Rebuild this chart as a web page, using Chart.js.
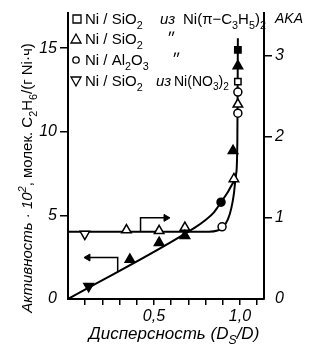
<!DOCTYPE html>
<html>
<head>
<meta charset="utf-8">
<script src="https://cdn.jsdelivr.net/npm/chart.js@4.4.0/dist/chart.umd.min.js"></script>
<style>
  body { margin: 0; background: #fff; }
  #wrap { width: 318px; height: 353px; }
</style>
</head>
<body>
<div id="wrap"><canvas id="chart" width="318" height="353"></canvas></div>
<script>
// --- данные ---
// подписи делений
const xTickValues = [0.5, 1.0];
const xTickLabels = ['0,5', '1,0'];
const leftTicks = [0, 5, 10, 15];
const rightTicks = [0, 1, 2, 3];

// активность, левая ось (черные точки)
const fDownX = [0.12];
const fDownY = [0.77];
const fUpX = [0.36, 0.53, 0.68, 0.96, 0.988];
const fUpY = [2.36, 3.37, 3.78, 8.86, 13.94];
const fCircX = [0.89];
const fCircY = [5.79];
const fSqX = [0.988];
const fSqY = [14.9];

// АКА, правая ось (светлые точки)
const oDownX = [0.098];
const oDownY = [0.80];
const oUpX = [0.34, 0.53, 0.68, 0.965, 0.988];
const oUpY = [0.85, 0.84, 0.88, 1.48, 2.40];
const oCircX = [0.896, 0.988, 0.988];
const oCircY = [0.89, 2.29, 2.55];
const oSqX = [0.988];
const oSqY = [2.68];

// кривые
const lowX = [0, 0.74, 0.80, 0.85, 0.89, 0.93, 0.96, 0.978, 0.985, 0.988];
const lowY = [0, 4.28, 4.72, 5.2, 5.79, 6.4, 6.95, 7.5, 9.5, 15.6];
const upX = [0, 0.82, 0.87, 0.90, 0.93, 0.95, 0.965, 0.977];
const upY = [0.83, 0.83, 0.845, 0.88, 0.98, 1.12, 1.3, 1.55];

// стрелки-указатели осей
const arrRX = [0.422, 0.422, 0.57];
const arrRY = [0.83, 1.0, 1.0];
const arrLX = [0.289, 0.289, 0.116];
const arrLY = [1.67, 2.48, 2.48];

const FONT = '"Liberation Sans", "DejaVu Sans", sans-serif';

function pts(xs, ys) {
    return xs.map((x, i) => ({ x: x, y: ys[i] }));
}

function marks(xs, ys, axis, style, filled, rot) {
    return {
        data: pts(xs, ys),
        yAxisID: axis,
        showLine: false,
        pointStyle: style,
        rotation: rot || 0,
        pointRadius: style === 'circle' ? 4 : (style === 'rect' ? 4.5 : 5.5),
        pointBackgroundColor: filled ? '#000' : '#fff',
        pointBorderColor: '#000',
        pointBorderWidth: 1.5,
        order: 0
    };
}

function curve(xs, ys, axis) {
    return {
        data: pts(xs, ys),
        yAxisID: axis,
        showLine: true,
        borderColor: '#000',
        borderWidth: 2,
        pointRadius: 0,
        cubicInterpolationMode: 'monotone',
        order: 1
    };
}

function arrow(xs, ys, axis, rot) {
    return {
        data: pts(xs, ys),
        yAxisID: axis,
        showLine: true,
        borderColor: '#000',
        borderWidth: 1.5,
        pointStyle: 'triangle',
        rotation: rot,
        pointRadius: xs.map((x, i) => i === xs.length - 1 ? 4 : 0),
        pointBackgroundColor: '#000',
        pointBorderColor: '#000',
        pointBorderWidth: 1,
        order: 1
    };
}

// текст с индексами: '_2' нижний, '^2' верхний
function rich(ctx, parts, x, y, size, italic, draw) {
    let cx = x;
    parts.forEach(p => {
        let s = p, dy = 0, fs = size;
        if (p[0] === '_') { s = p.slice(1); dy = size * 0.3; fs = size * 0.72; }
        else if (p[0] === '^') { s = p.slice(1); dy = -size * 0.4; fs = size * 0.72; }
        ctx.font = (italic ? 'italic ' : '') + fs + 'px ' + FONT;
        if (draw !== false) ctx.fillText(s, cx, y + dy);
        cx += ctx.measureText(s).width;
    });
    return cx - x;
}

function legendMark(ctx, style, x, y) {
    ctx.save();
    ctx.lineWidth = 1.3;
    ctx.strokeStyle = '#000';
    ctx.fillStyle = '#fff';
    ctx.beginPath();
    if (style === 'rect') {
        ctx.rect(x - 4, y - 4, 8, 8);
    } else if (style === 'circle') {
        ctx.arc(x, y, 3.2, 0, Math.PI * 2);
    } else if (style === 'up') {
        ctx.moveTo(x, y - 5); ctx.lineTo(x + 5, y + 4); ctx.lineTo(x - 5, y + 4); ctx.closePath();
    } else {
        ctx.moveTo(x, y + 5); ctx.lineTo(x + 5, y - 4); ctx.lineTo(x - 5, y - 4); ctx.closePath();
    }
    ctx.fill();
    ctx.stroke();
    ctx.restore();
}

const textPlugin = {
    id: 'texts',
    afterDraw(chart) {
        const ctx = chart.ctx;
        ctx.save();
        ctx.fillStyle = '#000';
        ctx.textBaseline = 'alphabetic';
        ctx.textAlign = 'left';

        // легенда
        const lx = 85, sz = 15;
        legendMark(ctx, 'rect', 77, 19);
        rich(ctx, ['Ni / SiO', '_2'], lx, 24, sz, false);
        rich(ctx, ['из'], 160, 24, sz, true);
        rich(ctx, ['Ni(π−C', '_3', 'H', '_5', ')', '_2'], 183, 24, sz, false);

        legendMark(ctx, 'up', 76, 39);
        rich(ctx, ['Ni / SiO', '_2'], lx, 44, sz, false);
        rich(ctx, ['״'], 167, 44, sz, false);

        legendMark(ctx, 'circle', 76, 60);
        rich(ctx, ['Ni / Al', '_2', 'O', '_3'], lx, 65, sz, false);
        rich(ctx, ['״'], 172, 65, sz, false);

        legendMark(ctx, 'down', 76, 81);
        rich(ctx, ['Ni / SiO', '_2'], lx, 86, sz, false);
        rich(ctx, ['из'], 156, 86, sz, true);
        rich(ctx, ['Ni(NO', '_3', ')', '_2'], 174, 86, 14, false);

        // подпись правой оси
        rich(ctx, ['AKA'], 275, 23, 14, true);

        // подпись оси x
        const xp = ['Дисперсность (D', '_S', '/D)'];
        const wx = rich(ctx, xp, 0, 0, 17, true, false);
        rich(ctx, xp, 174 - wx / 2, 339, 17, true);

        // подпись левой оси (повернута)
        ctx.translate(27, 178);
        ctx.rotate(-Math.PI / 2);
        const p1 = ['Активность · 10', '^2'];
        const p2 = [', молек. C', '_2', 'H', '_6', '/(г Ni·ч)'];
        const w1 = rich(ctx, p1, 0, 0, 15, true, false);
        const w2 = rich(ctx, p2, 0, 0, 15, false, false);
        const sx = -(w1 + w2) / 2;
        rich(ctx, p1, sx, 5, 15, true);
        rich(ctx, p2, sx + w1, 5, 15, false);
        ctx.restore();
    }
};

const tickFont = { family: FONT, size: 16, style: 'italic' };
const noZero = c => (c.tick && c.tick.value === 0) ? 'rgba(0,0,0,0)' : '#000';

const ctx = document.getElementById('chart').getContext('2d');
const chart = new Chart(ctx, {
    type: 'scatter',
    data: {
        datasets: [
            curve(lowX, lowY, 'y'),
            curve(upX, upY, 'y2'),
            arrow(arrRX, arrRY, 'y2', 90),
            arrow(arrLX, arrLY, 'y', -90),
            marks(fDownX, fDownY, 'y', 'triangle', true, 180),
            marks(fUpX, fUpY, 'y', 'triangle', true, 0),
            marks(fCircX, fCircY, 'y', 'circle', true, 0),
            marks(fSqX, fSqY, 'y', 'rect', true, 0),
            marks(oDownX, oDownY, 'y2', 'triangle', false, 180),
            marks(oUpX, oUpY, 'y2', 'triangle', false, 0),
            marks(oCircX, oCircY, 'y2', 'circle', false, 0),
            marks(oSqX, oSqY, 'y2', 'rect', false, 0)
        ]
    },
    options: {
        responsive: false,
        maintainAspectRatio: false,
        animation: false,
        layout: { padding: { top: 9, left: 0, right: 0, bottom: 0 } },
        plugins: { legend: { display: false }, tooltip: { enabled: false } },
        scales: {
            x: {
                type: 'linear',
                min: 0,
                max: 1.14,
                afterFit: s => { s.height = 54; },
                afterBuildTicks: s => { s.ticks = [0.1, 0.2, 0.3, 0.4, 0.5, 0.6, 0.7, 0.8, 0.9, 1.0, 1.1].map(v => ({ value: v })); },
                ticks: {
                    autoSkip: false,
                    maxRotation: 0,
                    padding: 2,
                    color: '#000',
                    font: tickFont,
                    callback: v => {
                        const i = xTickValues.findIndex(t => Math.abs(t - v) < 1e-6);
                        return i >= 0 ? xTickLabels[i] : '';
                    }
                },
                grid: { drawOnChartArea: false, tickLength: 6, color: '#000', lineWidth: 1.5 },
                border: { color: '#000', width: 2 }
            },
            y: {
                position: 'left',
                min: 0,
                max: 17.13,
                afterFit: s => { s.width = 68; },
                afterBuildTicks: s => { s.ticks = leftTicks.map(v => ({ value: v })); },
                ticks: { padding: 3, color: '#000', font: tickFont },
                grid: { drawOnChartArea: false, tickLength: 8, color: noZero, lineWidth: 1.5 },
                border: { color: '#000', width: 2 }
            },
            y2: {
                position: 'right',
                min: 0,
                max: 3.53,
                afterFit: s => { s.width = 54; },
                afterBuildTicks: s => { s.ticks = rightTicks.map(v => ({ value: v })); },
                ticks: { padding: 3, color: '#000', font: tickFont },
                grid: { drawOnChartArea: false, tickLength: 8, color: noZero, lineWidth: 1.5 },
                border: { color: '#000', width: 2 }
            }
        }
    },
    plugins: [textPlugin]
});
</script>
</body>
</html>
